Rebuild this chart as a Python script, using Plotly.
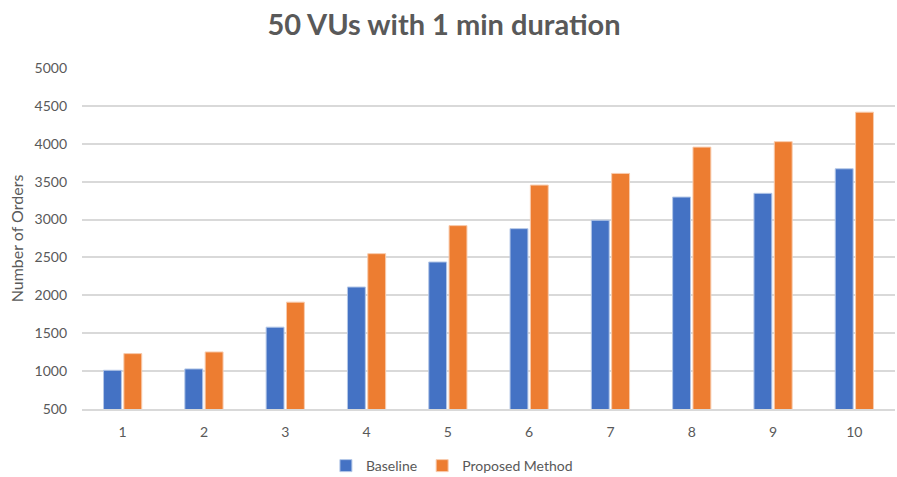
import plotly.graph_objects as go

categories = ["1", "2", "3", "4", "5", "6", "7", "8", "9", "10"]
baseline = [1011, 1029, 1580, 2110, 2440, 2880, 2991, 3297, 3346, 3670]
proposed = [1231, 1253, 1910, 2550, 2920, 3455, 3609, 3956, 4028, 4417]
y_ticks = [500, 1000, 1500, 2000, 2500, 3000, 3500, 4000, 4500, 5000]

font_family = "Lato, 'Open Sans', sans-serif"
grey = "#595959"

fig = go.Figure()
fig.add_trace(go.Bar(name="Baseline", x=categories, y=baseline,
                     marker=dict(color="#4472C4", line=dict(color="#B4C7E7", width=1))))
fig.add_trace(go.Bar(name="Proposed Method", x=categories, y=proposed,
                     marker=dict(color="#ED7D31", line=dict(color="#F8CBAD", width=1))))

fig.update_layout(
    width=897, height=477,
    margin=dict(l=82, r=2, t=68, b=68, autoexpand=False),
    paper_bgcolor="white", plot_bgcolor="white",
    barmode="group", bargap=0.5, bargroupgap=0.12,
    title=dict(text="<b>50 VUs with 1 min duration</b>", x=0.495, xanchor="center",
               y=0.947, yanchor="middle",
               font=dict(family=font_family, size=29, color=grey)),
    font=dict(family=font_family, color=grey, size=14),
    legend=dict(orientation="h", x=0.455, xanchor="center", yref="container",
                y=0.023, yanchor="middle",
                font=dict(size=14, color=grey), itemwidth=30, traceorder="normal"),
    xaxis=dict(showgrid=False, showline=True, linecolor="#D9D9D9", linewidth=1.5,
               ticks="", tickfont=dict(size=14, color=grey), ticklabelstandoff=9),
    yaxis=dict(range=[500, 5000], tickvals=y_ticks, showgrid=True, gridcolor="#D9D9D9",
               gridwidth=1.5, zeroline=False, showline=False, ticks="",
               tickfont=dict(size=14, color=grey), ticklabelstandoff=14,
               title=dict(text="Number of Orders", font=dict(size=16, color=grey), standoff=6)),
)

fig.write_html("out.html")
